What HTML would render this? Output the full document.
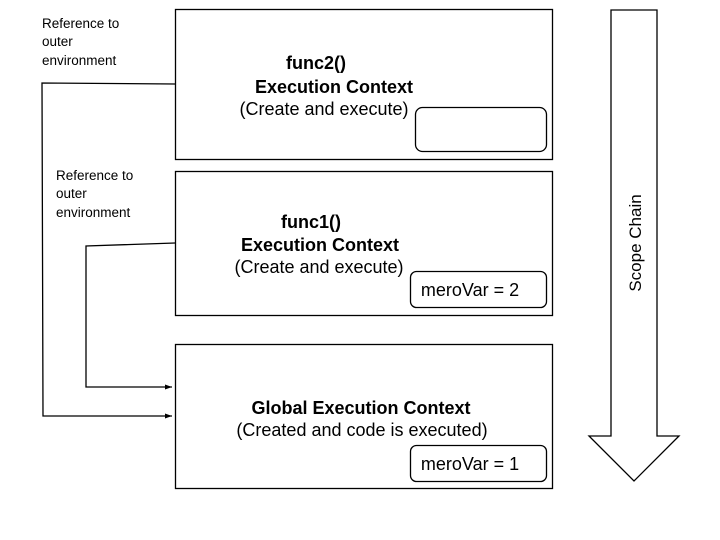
<!DOCTYPE html>
<html><head><meta charset="utf-8"><style>
html,body{margin:0;padding:0;background:#fff;}
svg{display:block;}
text{font-family:"Liberation Sans",Arial,sans-serif;fill:#000;}
</style></head><body>
<svg width="720" height="540" viewBox="0 0 720 540" xmlns="http://www.w3.org/2000/svg">
<defs><marker id="a" markerWidth="8" markerHeight="6" refX="7" refY="3" orient="auto" markerUnits="userSpaceOnUse"><path d="M0,0.5 L7,3 L0,5.5 z" fill="#000"/></marker></defs>
<g fill="none" stroke="#000" stroke-width="1.3">
<rect x="175.5" y="9.5" width="377" height="150"/>
<rect x="175.5" y="171.5" width="377" height="144"/>
<rect x="175.5" y="344.5" width="377" height="144"/>
<rect x="415.5" y="107.5" width="131" height="44" rx="7"/>
<rect x="410.5" y="271.5" width="136" height="36" rx="6"/>
<rect x="410.5" y="445.5" width="136" height="36" rx="6"/>
<path d="M175,84 L42,83 L43,416 L172,416" marker-end="url(#a)"/>
<path d="M175,243 L86,246 L86,387 L172,387" marker-end="url(#a)"/>
<path d="M611,10 L657,10 L657,436 L679,436 L634,481 L589,436 L611,436 Z"/>
</g>
<g font-size="13.5">
<text x="42" y="28">Reference to</text><text x="42" y="46">outer</text><text x="42" y="65">environment</text>
<text x="56" y="180">Reference to</text><text x="56" y="198">outer</text><text x="56" y="217">environment</text>
</g>
<g font-size="18" text-anchor="middle">
<text x="316" y="69" font-weight="bold">func2()</text>
<text x="334" y="93" font-weight="bold">Execution Context</text>
<text x="324" y="115">(Create and execute)</text>
<text x="311" y="228" font-weight="bold">func1()</text>
<text x="320" y="251" font-weight="bold">Execution Context</text>
<text x="319" y="273">(Create and execute)</text>
<text x="361" y="414" font-weight="bold">Global Execution Context</text>
<text x="362" y="436">(Created and code is executed)</text>
<text x="470" y="296">meroVar = 2</text>
<text x="470" y="470">meroVar = 1</text>
<text transform="translate(641,243) rotate(-90)" font-size="17">Scope Chain</text>
</g>
</svg>
</body></html>
